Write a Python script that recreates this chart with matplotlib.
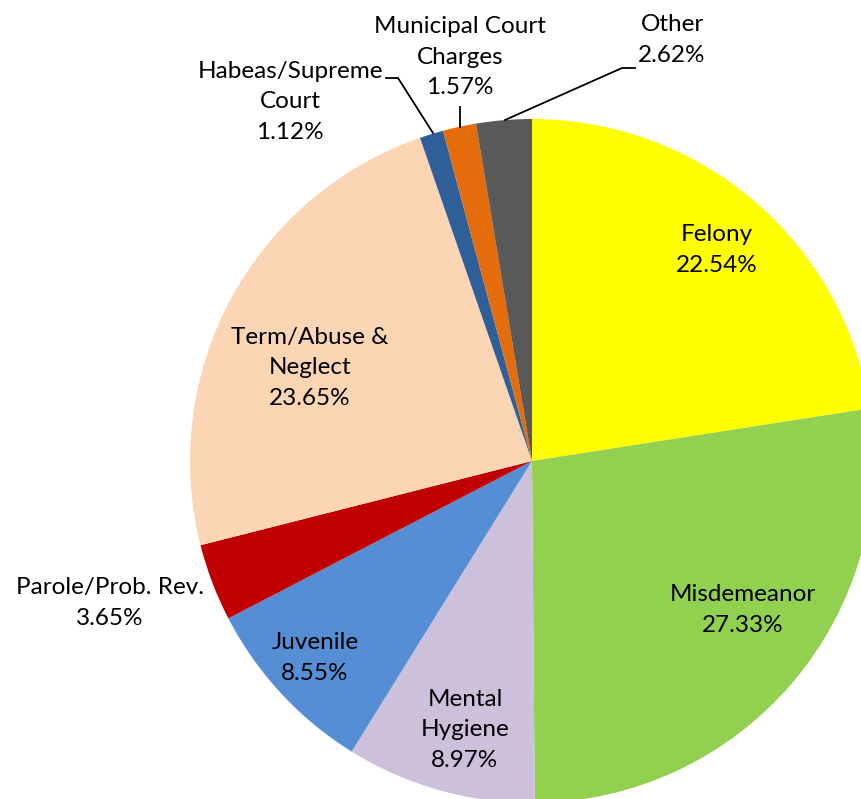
import matplotlib.pyplot as plt

categories = ["Felony", "Misdemeanor", "Mental\nHygiene", "Juvenile", "Parole/Prob. Rev.",
              "Term/Abuse &\nNeglect", "Habeas/Supreme\nCourt", "Municipal Court\nCharges", "Other"]
shares = [22.54, 27.33, 8.97, 8.55, 3.65, 23.65, 1.12, 1.57, 2.62]
colors = ["#FFFF00", "#92D050", "#CCC0DA", "#558ED5", "#C00000",
          "#FCD5B5", "#2F5F98", "#E46C0A", "#595959"]

W, H = 861, 799
fig = plt.figure(figsize=(W / 100, H / 100), dpi=100)
ax = fig.add_axes([0, 0, 1, 1])

cx, cy, r = 532, H - 461, 342
ax.pie(shares, colors=colors, startangle=90, counterclock=False,
       center=(cx, cy), radius=r, frame=True,
       wedgeprops=dict(linewidth=0))
ax.set_xlim(0, W)
ax.set_ylim(0, H)
ax.set_aspect("equal")
ax.axis("off")

# label positions in image pixels (x, y from top)
label_pos = [(717, 250), (743, 610), (465, 730), (315, 658), (110, 603),
             (310, 368), (290, 102), (460, 57), (672, 40)]
for name, val, (x, y) in zip(categories, shares, label_pos):
    ax.text(x, H - y, f"{name}\n{val:.2f}%", ha="center", va="center",
            fontsize=17.5, family="Lato", linespacing=1.55, color="black")

# leader lines
leaders = [
    [(433, 133), (398, 78), (386, 78)],
    [(460, 127), (460, 107)],
    [(505, 120), (622, 68), (635, 68)],
]
for pts in leaders:
    ax.plot([p[0] for p in pts], [H - p[1] for p in pts], color="black", lw=1.3)

fig.savefig("out.png", dpi=100)
